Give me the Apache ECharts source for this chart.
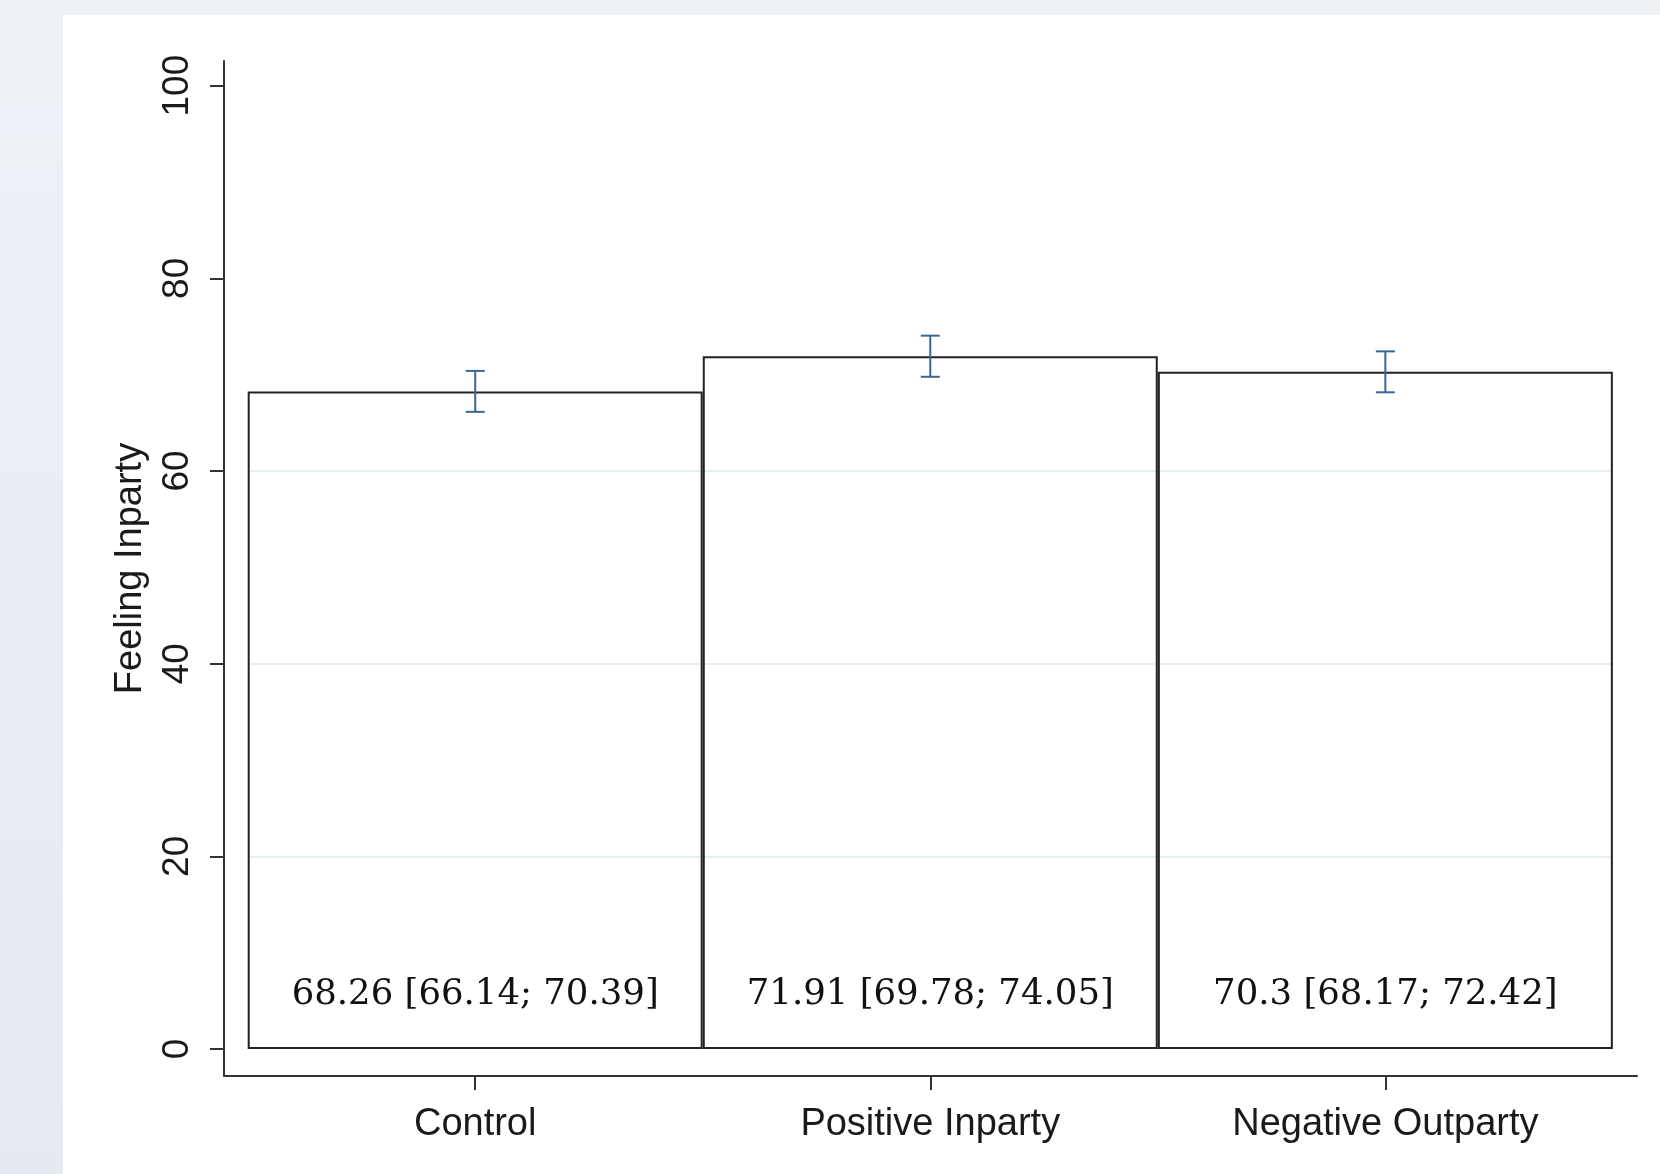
<!DOCTYPE html>
<html>
<head>
<meta charset="utf-8">
<script src="https://cdn.jsdelivr.net/npm/echarts@6/dist/echarts.min.js"></script>
<style>
  html, body { margin: 0; padding: 0; }
  body {
    width: 1660px; height: 1174px; overflow: hidden; position: relative;
    background: linear-gradient(to bottom, #eef1f6 0%, #e5e9f1 100%);
  }
  #main {
    position: absolute; left: 63px; top: 15px; width: 1597px; height: 1159px;
    background: #ffffff;
  }
</style>
</head>
<body>
<div id="main"></div>
<script>
// ---- data ----
const categories = ['Control', 'Positive Inparty', 'Negative Outparty'];
const means = [68.26, 71.91, 70.3];
const lowerCI = [66.14, 69.78, 68.17];
const upperCI = [70.39, 74.05, 72.42];
const yTicks = [0, 20, 40, 60, 80, 100];
const yAxisTitle = 'Feeling Inparty';

// ---- build options ----
const barData = means.map((m, i) => [i, m]);
const errData = means.map((m, i) => [i, lowerCI[i], upperCI[i]]);
const catPositions = categories.map((c, i) => i);

// light gridlines, visible only inside the bars
const gridSegs = [];
means.forEach((m, i) => {
  yTicks.forEach(v => {
    if (v > 0 && v < m) {
      gridSegs.push([{ coord: [i - 0.497, v] }, { coord: [i + 0.497, v] }]);
    }
  });
});

const sans = "'Liberation Sans', Arial, Helvetica, sans-serif";
const axisColor = '#333333';
const errColor = '#3b6790';

const chart = echarts.init(document.getElementById('main'), null, { renderer: 'canvas' });
chart.setOption({
  animation: false,
  backgroundColor: '#ffffff',
  grid: { left: 161, right: 23, top: 46, bottom: 98, containLabel: false },
  xAxis: {
    type: 'value',
    min: -0.552,
    max: 2.553,
    axisLine: { show: true, onZero: false, lineStyle: { color: axisColor, width: 2 } },
    axisTick: { show: true, customValues: catPositions, length: 14, lineStyle: { color: axisColor, width: 2 } },
    axisLabel: {
      show: true, customValues: catPositions, margin: 30,
      formatter: v => categories[Math.round(v)],
      fontFamily: sans, fontSize: 38, color: '#1a1a1a'
    },
    splitLine: { show: false }
  },
  yAxis: {
    type: 'value',
    min: -2.8,
    max: 102.56,
    name: yAxisTitle,
    nameLocation: 'middle',
    nameGap: 74,
    nameTextStyle: { fontFamily: sans, fontSize: 38, color: '#1a1a1a' },
    axisLine: { show: true, onZero: false, lineStyle: { color: axisColor, width: 2 } },
    axisTick: { show: true, customValues: yTicks, length: 14, lineStyle: { color: axisColor, width: 2 } },
    axisLabel: {
      show: true, customValues: yTicks, rotate: 90, margin: 28,
      fontFamily: sans, fontSize: 37, color: '#1a1a1a'
    },
    splitLine: { show: false }
  },
  series: [
    {
      type: 'bar',
      data: barData,
      barWidth: 455,
      z: 2,
      itemStyle: { color: 'rgba(255,255,255,0)', borderColor: '#222222', borderWidth: 2 },
      label: {
        show: true,
        position: 'insideBottom',
        distance: 36,
        formatter: p => means[p.dataIndex] + ' [' + lowerCI[p.dataIndex] + '; ' + upperCI[p.dataIndex] + ']',
        fontFamily: "'DejaVu Serif', 'Liberation Serif', serif",
        fontSize: 35.5,
        color: '#111111'
      },
      markLine: {
        silent: true,
        symbol: ['none', 'none'],
        label: { show: false },
        lineStyle: { color: '#e6eff0', width: 2, type: 'solid' },
        z: 1,
        data: gridSegs
      }
    },
    {
      type: 'custom',
      data: errData,
      encode: { x: 0, y: [1, 2] },
      z: 3,
      renderItem: (params, api) => {
        const x = api.value(0);
        const pLo = api.coord([x, api.value(1)]);
        const pHi = api.coord([x, api.value(2)]);
        const hw = 9.5;
        const st = { stroke: errColor, lineWidth: 2 };
        return {
          type: 'group',
          children: [
            { type: 'line', shape: { x1: pLo[0], y1: pLo[1], x2: pHi[0], y2: pHi[1] }, style: st },
            { type: 'line', shape: { x1: pLo[0] - hw, y1: pLo[1], x2: pLo[0] + hw, y2: pLo[1] }, style: st },
            { type: 'line', shape: { x1: pHi[0] - hw, y1: pHi[1], x2: pHi[0] + hw, y2: pHi[1] }, style: st }
          ]
        };
      }
    }
  ]
});
</script>
</body>
</html>
